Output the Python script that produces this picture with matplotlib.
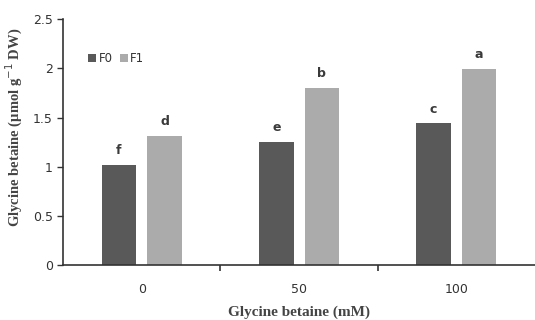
import numpy as np
import matplotlib.pyplot as plt

# Data
doses = ["0", "50", "100"]
f0_vals = [1.02, 1.25, 1.44]
f1_vals = [1.31, 1.80, 1.99]
f0_letters = ["f", "e", "c"]
f1_letters = ["d", "b", "a"]

c_f0 = "#595959"
c_f1 = "#ababab"

fig = plt.figure(figsize=(5.35, 3.2), dpi=100)
ax = fig.add_axes([0.118, 0.172, 0.882, 0.768])

x = np.arange(len(doses))
w = 0.22
gap = 0.035
b0 = ax.bar(x - w / 2 - gap, f0_vals, w, color=c_f0, label="F0")
b1 = ax.bar(x + w / 2 + gap, f1_vals, w, color=c_f1, label="F1")

# significance letters
for rect, lab in zip(b0, f0_letters):
    ax.text(rect.get_x() + rect.get_width() / 2, rect.get_height() + 0.08, lab,
            ha="center", va="bottom", fontsize=9, fontweight="bold", color="#3a3a3a")
for rect, lab in zip(b1, f1_letters):
    ax.text(rect.get_x() + rect.get_width() / 2, rect.get_height() + 0.08, lab,
            ha="center", va="bottom", fontsize=9, fontweight="bold", color="#3a3a3a")

ax.set_xlim(-0.5, len(doses) - 0.5)
ax.set_ylim(0, 2.5)
ax.set_yticks([0, 0.5, 1, 1.5, 2, 2.5])
ax.set_yticklabels(["0", "0.5", "1", "1.5", "2", "2.5"])
ax.set_xticks(x)
ax.set_xticklabels(doses)
ax.set_xticks([0.5, 1.5], minor=True)
ax.tick_params(axis="x", which="major", length=0, pad=13, labelsize=9, colors="#333333")
ax.tick_params(axis="x", which="minor", length=4, width=1.2, direction="out", color="#333333")
ax.tick_params(axis="y", length=4, width=1, direction="out", labelsize=9, colors="#333333")

for s in ["top", "right"]:
    ax.spines[s].set_visible(False)
ax.spines["left"].set_color("#333333")
ax.spines["bottom"].set_color("#333333")
ax.spines["left"].set_linewidth(1.2)
ax.spines["bottom"].set_linewidth(1.2)

ax.set_xlabel("Glycine betaine (mM)", fontfamily="Liberation Serif", fontweight="bold",
              fontsize=11, color="#444444", labelpad=7)
ax.set_ylabel("Glycine betaine (µmol g$^{-1}$ DW)", fontfamily="Liberation Serif",
              fontweight="bold", fontsize=10.5, color="#444444")
ax.yaxis.set_label_coords(-0.08, 0.56)

leg = ax.legend(loc="upper left", bbox_to_anchor=(0.03, 0.91), ncol=2, frameon=False,
                fontsize=8.5, handlelength=0.7, handleheight=0.7, handletextpad=0.2,
                columnspacing=0.6)
for t in leg.get_texts():
    t.set_color("#333333")

fig.savefig("out.png", dpi=100)
